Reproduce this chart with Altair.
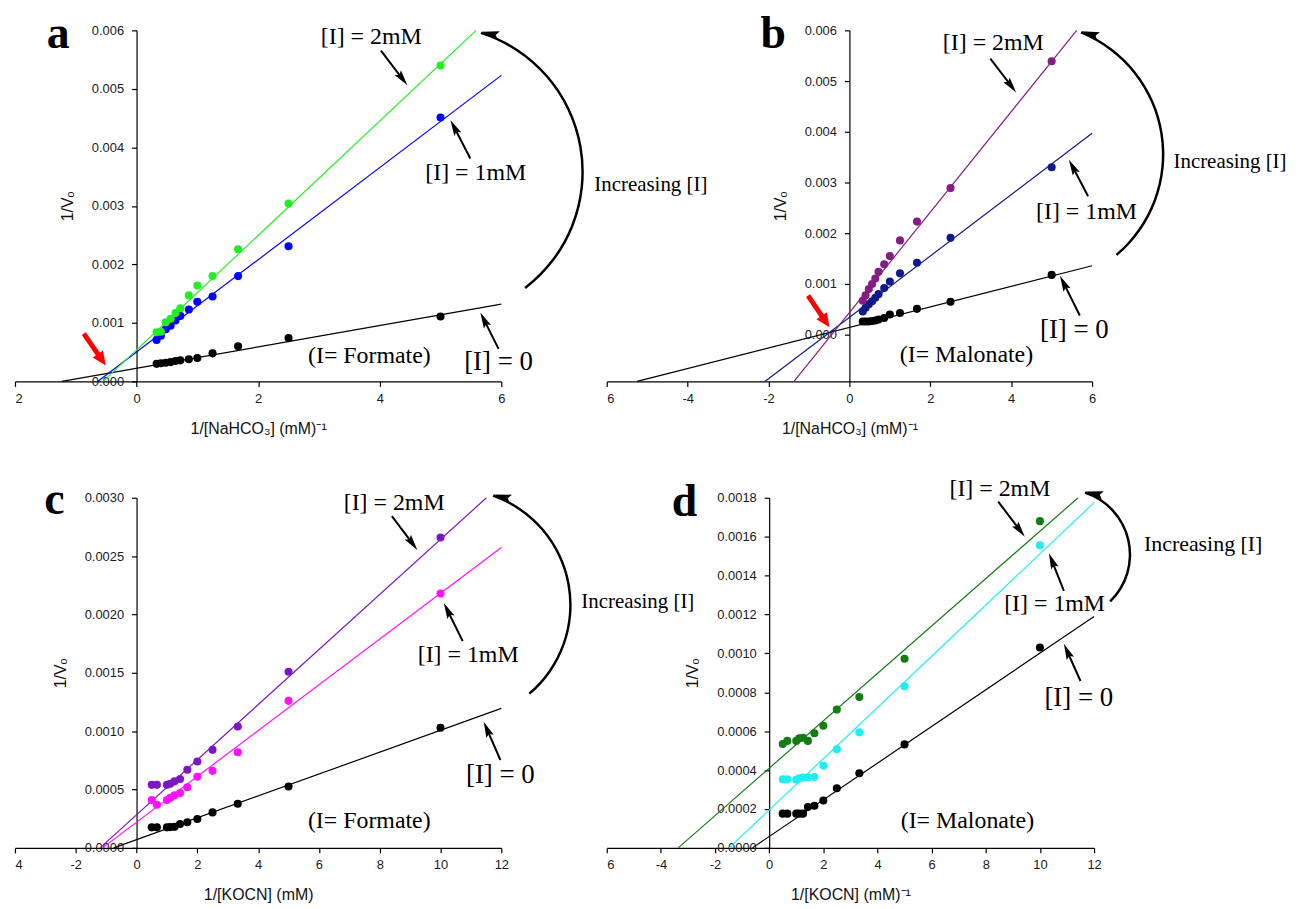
import math
import altair as alt
import pandas as pd

SANS = "Liberation Sans"
SERIF = "Liberation Serif"

# ---------------- Panel a : Formate, 1/[NaHCO3] ----------------
A_X = [0.33, 0.40, 0.48, 0.56, 0.64, 0.72, 0.86, 1.00, 1.25, 1.67, 2.50, 5.00]
A_I0 = [0.00030, 0.00031, 0.00032, 0.00033, 0.00035, 0.00036, 0.00038, 0.00040, 0.00048, 0.00060, 0.00074, 0.00111]
A_I1 = [0.00071, 0.00078, 0.00089, 0.00095, 0.00104, 0.00112, 0.00123, 0.00136, 0.00145, 0.00180, 0.00231, 0.00451]
A_I2 = [0.00084, 0.00085, 0.00101, 0.00107, 0.00117, 0.00125, 0.00147, 0.00164, 0.00180, 0.00226, 0.00304, 0.00540]
A_FITS = [[-1.23, 0.0, 6.0, 0.00132], [-0.64, 0.0, 6.0, 0.00523], [-0.55, 0.0, 5.585, 0.006]]
A_COLORS = ["#000000", "#0000FF", "#22EE22"]

# ---------------- Panel b : Malonate, 1/[NaHCO3] ----------------
B_X = [0.33, 0.40, 0.48, 0.56, 0.64, 0.72, 0.86, 1.00, 1.25, 1.67, 2.50, 5.00]
B_I0 = [0.00026, 0.00026, 0.00026, 0.00027, 0.00028, 0.00030, 0.00033, 0.00040, 0.00043, 0.00051, 0.00065, 0.00118]
B_I1 = [0.00046, 0.00053, 0.00060, 0.00066, 0.00073, 0.00080, 0.00092, 0.00105, 0.00121, 0.00142, 0.00191, 0.00330]
B_I2 = [0.00067, 0.00078, 0.00090, 0.00100, 0.00111, 0.00124, 0.00139, 0.00155, 0.00186, 0.00223, 0.00289, 0.00539]
B_FITS = [[-5.25, -0.00092, 6.0, 0.00136], [-2.09, -0.00092, 6.0, 0.00397], [-1.37, -0.00092, 5.62, 0.006]]
B_COLORS = ["#000000", "#101A8C", "#851C85"]

# ---------------- Panel c : Formate, 1/[KOCN] ----------------
C_X = [0.50, 0.67, 1.00, 1.11, 1.25, 1.43, 1.67, 2.00, 2.50, 3.33, 5.00, 10.00]
C_I0 = [0.000176, 0.000176, 0.000176, 0.000178, 0.000180, 0.000205, 0.000220, 0.000247, 0.000304, 0.000378, 0.000526, 0.00103]
C_I1 = [0.00041, 0.00037, 0.00041, 0.00043, 0.00045, 0.00047, 0.00052, 0.00061, 0.00066, 0.00082, 0.00126, 0.00218]
C_I2 = [0.00054, 0.00054, 0.00054, 0.00055, 0.00057, 0.00059, 0.00067, 0.00074, 0.00084, 0.00104, 0.00151, 0.00266]
C_FITS = [[-0.75, 0.0, 12.0, 0.001195], [-1.12, 0.0, 12.0, 0.002574], [-1.20, 0.0, 11.51, 0.003]]
C_COLORS = ["#000000", "#FF10FF", "#7B18C4"]

# ---------------- Panel d : Malonate, 1/[KOCN] ----------------
D_X = [0.50, 0.67, 1.00, 1.11, 1.25, 1.43, 1.67, 2.00, 2.50, 3.33, 5.00, 10.00]
D_I0 = [0.000176, 0.000176, 0.000176, 0.000176, 0.000176, 0.000210, 0.000217, 0.000244, 0.000307, 0.000384, 0.000532, 0.00103]
D_I1 = [0.000353, 0.000353, 0.000350, 0.000358, 0.000362, 0.000362, 0.000364, 0.000423, 0.000507, 0.000594, 0.000831, 0.001556]
D_I2 = [0.000534, 0.000550, 0.000550, 0.000563, 0.000566, 0.000550, 0.000589, 0.000628, 0.000711, 0.000776, 0.000972, 0.00168]
D_FITS = [[-0.62, 0.0, 12.0, 0.00119], [-1.48, 0.0, 12.0, 0.001775], [-3.36, 0.0, 11.41, 0.0018]]
D_COLORS = ["#000000", "#1EEEF0", "#137D13"]

# ---------------- annotations (data coordinates) ----------------
A_TEXT = [["[I] = 2mM", 3.86, 0.00576, 24], ["[I] = 1mM", 5.58, 0.00345, 24], ["[I] = 0", 5.955, 0.000187, 27],
          ["(I= Formate)", 3.83, 0.000311, 24], ["Increasing [I]", 8.46, 0.003246, 21]]
A_LETTER = ["a", -1.29, 0.005696]
A_ARROWS = [[4.02, 0.005655, 4.455, 0.00506], [5.49, 0.00381, 5.165, 0.004465], [5.955, 0.000556, 5.655, 0.001178]]
A_RED = [[-0.867, 0.000816, -0.507, 0.000272]]
A_ARC = [4.936, 0.003581, 148, 17.7, 142.7]

B_TEXT = [["[I] = 2mM", 3.558, 0.005614, 24], ["[I] = 1mM", 5.862, 0.00228, 24], ["[I] = 0", 5.562, -0.0000725, 27],
          ["(I= Malonate)", 2.894, -0.000537, 24], ["Increasing [I]", 9.41, 0.003286, 21]]
B_LETTER = ["b", -1.886, 0.005653]
B_ARROWS = [[3.484, 0.005443, 4.123, 0.004776], [5.901, 0.002731, 5.427, 0.003451], [5.697, 0.000378, 5.205, 0.001163]]
B_RED = [[-1.023, 0.000771, -0.492, 0.000149]]
B_ARC = [4.502, 0.003555, 133.6, 22.1, 139.8]

C_TEXT = [["[I] = 2mM", 8.475, 0.002892, 24], ["[I] = 1mM", 10.91, 0.001593, 24], ["[I] = 0", 11.97, 0.000554, 27],
          ["(I= Formate)", 7.656, 0.000171, 24], ["Increasing [I]", 16.49, 0.002053, 21]]
C_LETTER = ["c", -2.706, 0.00286]
C_ARROWS = [[8.4, 0.002843, 9.237, 0.002553], [10.73, 0.001772, 10.11, 0.002098], [11.97, 0.000753, 11.42, 0.001081]]
C_RED = []
C_ARC = [10.457, 0.002081, 117.9, 19.5, 139.8]

D_TEXT = [["[I] = 2mM", 8.522, 0.001808, 24], ["[I] = 1mM", 10.543, 0.00122, 24], ["[I] = 0", 11.436, 0.00073, 27],
          ["(I= Malonate)", 7.321, 0.000102, 24], ["Increasing [I]", 16.03, 0.001527, 22]]
D_LETTER = ["d", -3.133, 0.001705]
D_ARROWS = [[8.46, 0.00178, 9.441, 0.0016], [10.885, 0.001322, 10.333, 0.001515], [11.498, 0.000858, 10.885, 0.001049]]
D_RED = []
D_ARC = [10.918, 0.001508, 66.8, 18.1, 135.9]

HEAD_BLACK = "M0,0 L0.5,2 L0,1.65 L-0.5,2 Z"
HEAD_RED = "M0,0 L0.9,2 L-0.9,2 Z"

PANELS = [
    dict(x=A_X, ys=[A_I0, A_I1, A_I2], fits=A_FITS, colors=A_COLORS, xdom=[-2, 6], ydom=[0, 0.006], w=489, h=353,
         xticks=[-2, 0, 2, 4, 6], yticks=[0, 0.001, 0.002, 0.003, 0.004, 0.005, 0.006], yfmt=".3f",
         xtitle="1/[NaHCO\u2083] (mM)\u207b\u00b9", text=A_TEXT, letter=A_LETTER, arrows=A_ARROWS, red=A_RED, arc=A_ARC),
    dict(x=B_X, ys=[B_I0, B_I1, B_I2], fits=B_FITS, colors=B_COLORS, xdom=[-6, 6], ydom=[-0.00092, 0.006], w=488, h=353,
         xticks=[-6, -4, -2, 0, 2, 4, 6], yticks=[0, 0.001, 0.002, 0.003, 0.004, 0.005, 0.006], yfmt=".3f",
         xtitle="1/[NaHCO\u2083] (mM)\u207b\u00b9", text=B_TEXT, letter=B_LETTER, arrows=B_ARROWS, red=B_RED, arc=B_ARC),
    dict(x=C_X, ys=[C_I0, C_I1, C_I2], fits=C_FITS, colors=C_COLORS, xdom=[-4, 12], ydom=[0, 0.003], w=489, h=352,
         xticks=[-4, -2, 0, 2, 4, 6, 8, 10, 12], yticks=[0, 0.0005, 0.001, 0.0015, 0.002, 0.0025, 0.003], yfmt=".4f",
         xtitle="1/[KOCN] (mM)", text=C_TEXT, letter=C_LETTER, arrows=C_ARROWS, red=C_RED, arc=C_ARC),
    dict(x=D_X, ys=[D_I0, D_I1, D_I2], fits=D_FITS, colors=D_COLORS, xdom=[-6, 12], ydom=[0, 0.0018], w=490, h=352,
         xticks=[-6, -4, -2, 0, 2, 4, 6, 8, 10, 12],
         yticks=[0, 0.0002, 0.0004, 0.0006, 0.0008, 0.001, 0.0012, 0.0014, 0.0016, 0.0018], yfmt=".4f",
         xtitle="1/[KOCN] (mM)\u207b\u00b9", text=D_TEXT, letter=D_LETTER, arrows=D_ARROWS, red=D_RED, arc=D_ARC),
]


def make_panel(p):
    xd, yd, W, H = p["xdom"], p["ydom"], p["w"], p["h"]
    kx = W / (xd[1] - xd[0])
    ky = H / (yd[1] - yd[0])
    xaxis = alt.Axis(values=p["xticks"], title=p["xtitle"], labelFlush=False, labelOverlap=False,
                     labelExpr=f"datum.value == {xd[0]} ? '{abs(xd[0])}' : toString(datum.value)",
                     labelAlign={"condition": {"test": f"datum.value == {xd[0]}", "value": "left"}, "value": "center"},
                     labelPadding=6, titlePadding=15)
    yaxis = alt.Axis(values=p["yticks"], format=p["yfmt"], title="1/V\u2092", labelOverlap=False,
                     offset=-(0 - xd[0]) * kx, labelPadding=8, titlePadding=16)
    X = alt.X("x:Q", scale=alt.Scale(domain=xd, nice=False, zero=False), axis=xaxis)
    Y = alt.Y("y:Q", scale=alt.Scale(domain=yd, nice=False, zero=False), axis=yaxis)
    C = alt.Color("c:N", scale=None)

    pts = []
    for ys, col in zip(p["ys"], p["colors"]):
        for xv, yv in zip(p["x"], ys):
            pts.append({"x": xv, "y": yv, "c": col})
    fits = [{"x": f[0], "y": f[1], "x2": f[2], "y2": f[3], "c": col} for f, col in zip(p["fits"], p["colors"])]

    def arrow_rows(arrs, hl, col, sw):
        shafts, heads = [], []
        for x0, y0, x1, y1 in arrs:
            dx = (x1 - x0) * kx
            dy = -(y1 - y0) * ky
            L = math.hypot(dx, dy)
            ang = math.degrees(math.atan2(dx, -dy)) % 360
            back = hl * 0.75
            xe = x1 - (dx / L) * back / kx
            ye = y1 + (dy / L) * back / ky
            shafts.append({"x": x0, "y": y0, "x2": xe, "y2": ye, "c": col, "sw": sw})
            heads.append({"x": x1, "y": y1, "c": col, "a": ang, "s": hl * hl})
        return shafts, heads

    bs, bh = arrow_rows(p["arrows"], 16, "#000000", 2)
    rs, rh = arrow_rows(p["red"], 14, "#FF0000", 5)

    cx, cy, r, t1, t2 = p["arc"]
    tip = {"x": cx + r * math.sin(math.radians(t1)) / kx, "y": cy + r * math.cos(math.radians(t1)) / ky,
           "c": "#000000", "a": (t1 - 95) % 360, "s": 324}
    bh.append(tip)

    layers = [
        alt.Chart(pd.DataFrame(fits)).mark_rule(strokeWidth=1.2).encode(x=X, y=Y, x2="x2:Q", y2="y2:Q", color=C),
        alt.Chart(pd.DataFrame(pts)).mark_circle(size=66, opacity=1).encode(x=X, y=Y, color=C),
        alt.Chart(pd.DataFrame(bs)).mark_rule().encode(x=X, y=Y, x2="x2:Q", y2="y2:Q", color=C,
                                                        strokeWidth=alt.StrokeWidth("sw:Q", scale=None)),
        alt.Chart(pd.DataFrame(bh)).mark_point(shape=HEAD_BLACK, filled=True, opacity=1, strokeWidth=0).encode(
            x=X, y=Y, color=C, size=alt.Size("s:Q", scale=None), angle=alt.Angle("a:Q", scale=None)),
        alt.Chart(pd.DataFrame([{"x": cx, "y": cy}])).mark_arc(
            radius=r, radius2=r - 2.5, theta=math.radians(t1), theta2=math.radians(t2), color="black").encode(x=X, y=Y),
        alt.Chart(pd.DataFrame([{"t": t[0], "x": t[1], "y": t[2], "fs": t[3]} for t in p["text"]])).mark_text(
            font=SERIF, align="center", baseline="alphabetic", color="black").encode(
            x=X, y=Y, text="t:N", size=alt.Size("fs:Q", scale=None)),
        alt.Chart(pd.DataFrame([{"t": p["letter"][0], "x": p["letter"][1], "y": p["letter"][2]}])).mark_text(
            font=SERIF, fontWeight="bold", fontSize=46, align="center", baseline="alphabetic", color="black").encode(
            x=X, y=Y, text="t:N"),
    ]
    if rs:
        layers.append(alt.Chart(pd.DataFrame(rs)).mark_rule().encode(
            x=X, y=Y, x2="x2:Q", y2="y2:Q", color=C, strokeWidth=alt.StrokeWidth("sw:Q", scale=None)))
        layers.append(alt.Chart(pd.DataFrame(rh)).mark_point(shape=HEAD_RED, filled=True, opacity=1, strokeWidth=0).encode(
            x=X, y=Y, color=C, size=alt.Size("s:Q", scale=None), angle=alt.Angle("a:Q", scale=None)))
    return alt.layer(*layers).properties(width=W, height=H)


charts = [make_panel(p) for p in PANELS]

chart = alt.concat(*charts, columns=2, spacing={"row": 117, "column": 106}, bounds="flush").properties(
    padding={"left": 6, "top": 0, "right": 5, "bottom": 5}
).configure_view(stroke=None).configure_axis(
    grid=False, labelFont=SANS, titleFont=SANS, labelFontSize=13, titleFontSize=16, titleFontWeight="normal",
    labelColor="#1a1a1a", titleColor="#111111", domainColor="black", tickColor="black",
    domainWidth=1.2, tickWidth=1.2, tickSize=5
)

chart.save("out.html", embed_options={"renderer": "svg", "actions": False})
